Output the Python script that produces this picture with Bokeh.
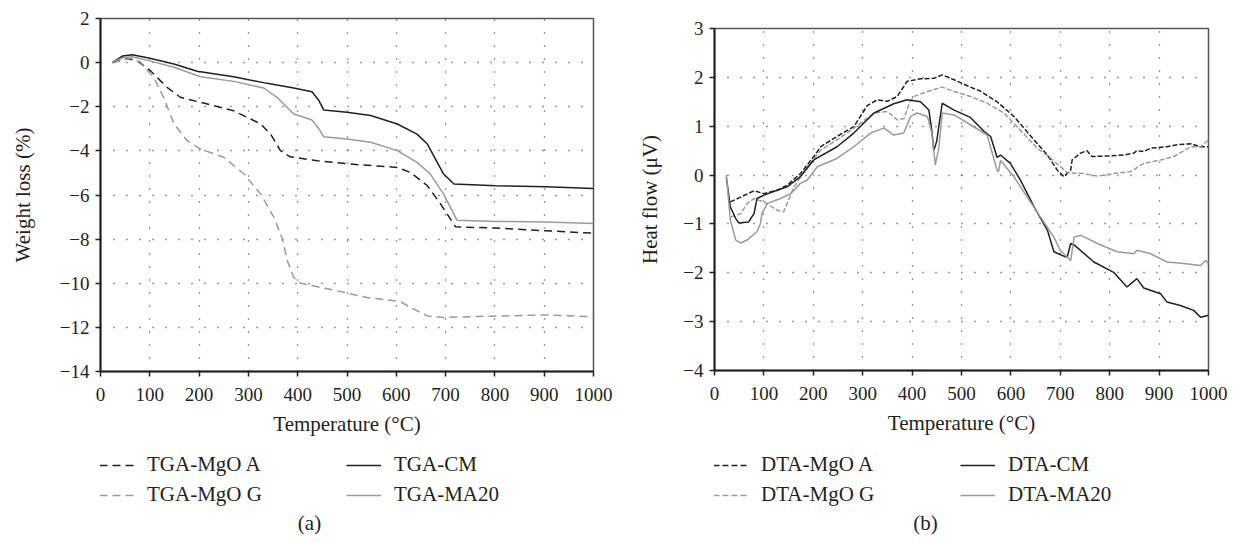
from bokeh.plotting import figure
from bokeh.layouts import row, column
from bokeh.models import Legend, LegendItem, Label, FixedTicker, Range1d, Spacer
from bokeh.embed import file_html
from bokeh.resources import INLINE

# ---------------- data ----------------
x_ticks = [0, 100, 200, 300, 400, 500, 600, 700, 800, 900, 1000]
tga_yticks = [-14, -12, -10, -8, -6, -4, -2, 0, 2]
dta_yticks = [-4, -3, -2, -1, 0, 1, 2, 3]

tga_labels = ["TGA-MgO A", "TGA-MgO G", "TGA-CM", "TGA-MA20"]
dta_labels = ["DTA-MgO A", "DTA-MgO G", "DTA-CM", "DTA-MA20"]

tga_a_t = [24, 54, 74, 101, 135, 162, 203, 270, 325, 345, 365, 385, 440, 507, 602, 629, 663, 690, 720, 801, 903, 1000]
tga_a_w = [0, 0.17, 0.09, -0.36, -1.12, -1.57, -1.8, -2.18, -2.78, -3.24, -3.99, -4.27, -4.45, -4.6, -4.75, -4.98, -5.58, -6.41, -7.44, -7.5, -7.62, -7.73]

tga_g_t = [24, 61, 81, 108, 128, 149, 176, 203, 250, 291, 325, 352, 369, 379, 392, 406, 473, 541, 608, 629, 663, 696, 811, 903, 994, 1000]
tga_g_w = [0, 0.2, 0.02, -0.67, -1.57, -2.78, -3.54, -3.92, -4.29, -5.05, -5.96, -7.02, -8.0, -8.98, -9.74, -10.0, -10.31, -10.65, -10.83, -11.1, -11.48, -11.55, -11.48, -11.44, -11.51, -11.5]

tga_cm_t = [24, 45, 64, 98, 149, 196, 270, 338, 392, 429, 443, 453, 500, 548, 602, 642, 663, 696, 717, 801, 903, 1000]
tga_cm_w = [0, 0.3, 0.36, 0.21, -0.06, -0.39, -0.64, -0.94, -1.15, -1.32, -1.72, -2.15, -2.25, -2.4, -2.78, -3.24, -3.69, -5.05, -5.5, -5.58, -5.63, -5.7]

tga_ma_t = [24, 45, 64, 98, 149, 203, 270, 331, 358, 392, 429, 443, 453, 500, 548, 602, 642, 669, 696, 723, 801, 903, 1000]
tga_ma_w = [0, 0.22, 0.27, 0.09, -0.21, -0.64, -0.85, -1.15, -1.57, -2.33, -2.6, -3.0, -3.36, -3.46, -3.61, -3.99, -4.52, -5.05, -5.96, -7.14, -7.2, -7.22, -7.29]

dta_a_t = [32, 53, 80, 100, 127, 147, 174, 201, 215, 248, 282, 309, 329, 350, 370, 390, 417, 444, 461, 485, 518, 538, 572, 606, 647, 674, 694, 707, 721, 724, 741, 754, 764, 795, 828, 849, 855, 869, 883, 916, 936, 964, 984, 1000]
dta_a_h = [-0.55, -0.45, -0.32, -0.38, -0.31, -0.21, 0.03, 0.38, 0.58, 0.79, 0.99, 1.42, 1.54, 1.51, 1.61, 1.92, 1.97, 1.98, 2.05, 1.95, 1.8, 1.72, 1.5, 1.2, 0.72, 0.41, 0.1, -0.03, 0.1, 0.31, 0.45, 0.5, 0.38, 0.39, 0.41, 0.45, 0.5, 0.48, 0.55, 0.58, 0.62, 0.64, 0.58, 0.58]

dta_g_t = [32, 53, 66, 80, 100, 127, 140, 161, 188, 215, 248, 282, 323, 350, 370, 384, 394, 404, 431, 461, 485, 518, 552, 586, 619, 653, 680, 714, 748, 775, 808, 842, 869, 903, 930, 964, 984, 1000]
dta_g_h = [-0.86, -0.79, -0.58, -0.48, -0.55, -0.72, -0.75, -0.24, 0.17, 0.51, 0.72, 0.96, 1.27, 1.3, 1.13, 1.16, 1.47, 1.61, 1.71, 1.8, 1.71, 1.61, 1.47, 1.27, 0.92, 0.55, 0.35, 0.05, 0.03, -0.02, 0.03, 0.07, 0.24, 0.31, 0.38, 0.58, 0.58, 0.72]

dta_cm_t = [24, 32, 43, 49, 69, 80, 86, 100, 127, 147, 174, 201, 248, 282, 323, 363, 390, 417, 434, 440, 444, 450, 454, 461, 485, 518, 545, 559, 572, 579, 599, 619, 647, 674, 687, 707, 714, 721, 728, 768, 808, 835, 855, 869, 903, 916, 943, 970, 984, 1000]
dta_cm_h = [-0.05, -0.65, -0.89, -0.98, -0.96, -0.79, -0.48, -0.41, -0.31, -0.24, -0.03, 0.31, 0.58, 0.86, 1.27, 1.46, 1.54, 1.5, 1.33, 0.9, 0.5, 0.7, 0.99, 1.47, 1.33, 1.18, 0.9, 0.79, 0.36, 0.41, 0.24, -0.1, -0.65, -1.13, -1.57, -1.66, -1.68, -1.4, -1.43, -1.78, -1.99, -2.29, -2.12, -2.31, -2.43, -2.6, -2.67, -2.77, -2.91, -2.87]

dta_ma_t = [24, 32, 43, 53, 66, 86, 93, 96, 107, 134, 154, 174, 188, 208, 248, 282, 316, 343, 363, 383, 397, 410, 431, 440, 447, 454, 461, 485, 518, 552, 572, 575, 579, 606, 633, 660, 687, 700, 721, 728, 741, 775, 815, 849, 855, 883, 916, 950, 984, 994, 1000]
dta_ma_h = [0.0, -0.92, -1.33, -1.39, -1.33, -1.16, -0.99, -0.79, -0.58, -0.48, -0.38, -0.17, -0.1, 0.17, 0.34, 0.58, 0.86, 0.96, 0.82, 0.86, 1.2, 1.27, 1.2, 0.86, 0.21, 0.55, 1.27, 1.23, 1.03, 0.82, 0.1, 0.07, 0.3, -0.03, -0.45, -0.86, -1.27, -1.54, -1.75, -1.27, -1.23, -1.4, -1.57, -1.61, -1.54, -1.61, -1.78, -1.81, -1.85, -1.75, -1.81]

# ---------------- styling ----------------
FONT = "Liberation Serif"
TXT = "#231f20"
BLACK = "#231f20"
GRAY = "#9a9a9a"
NAN = float("nan")


def make_fig(fw, fh, mb_left, mb_right, mb_top, mb_bottom, y0, y1, yticks, ylabel, ystand):
    p = figure(frame_width=fw, frame_height=fh, output_backend="svg", toolbar_location=None,
               x_range=Range1d(0, 1000), y_range=Range1d(y0, y1),
               min_border_left=mb_left, min_border_right=mb_right,
               min_border_top=mb_top, min_border_bottom=mb_bottom)
    p.background_fill_color = "white"
    p.border_fill_color = "white"
    p.outline_line_color = "#555555"
    p.outline_line_width = 1.5
    p.xaxis.ticker = FixedTicker(ticks=x_ticks)
    p.yaxis.ticker = FixedTicker(ticks=yticks)
    p.yaxis.major_label_overrides = {t: (("\u2212" + str(-t)) if t < 0 else str(t)) for t in yticks}
    for ax in (p.xaxis[0], p.yaxis[0]):
        ax.axis_line_color = BLACK
        ax.axis_line_width = 2
        ax.major_tick_line_color = BLACK
        ax.major_tick_line_width = 1.5
        ax.major_tick_out = 5
        ax.major_tick_in = 0
        ax.minor_tick_line_color = None
        ax.major_label_text_font = FONT
        ax.major_label_text_font_size = "19px"
        ax.major_label_text_color = TXT
        ax.axis_label_text_font = FONT
        ax.axis_label_text_font_size = "21px"
        ax.axis_label_text_font_style = "normal"
        ax.axis_label_text_color = TXT
    p.xaxis.axis_label = "Temperature (\u00b0C)"
    p.yaxis.axis_label = ylabel
    p.xaxis.major_label_standoff = 11
    p.xaxis.axis_label_standoff = 8
    p.yaxis.major_label_standoff = 6
    p.yaxis.axis_label_standoff = ystand
    for g in (p.xgrid[0], p.ygrid[0]):
        g.grid_line_color = "#333333"
        g.grid_line_width = 1.3
        g.grid_line_dash = "1 12"
    return p


def legend_fig(fw, mb_left, mb_right, labels, styles, caption, cap_x):
    # frame is aligned with the plot frame above it (same left/right borders)
    lf = figure(frame_width=fw, height=95, output_backend="svg", toolbar_location=None,
                x_range=Range1d(0, fw), y_range=Range1d(0, 95),
                min_border_left=mb_left, min_border_right=mb_right,
                min_border_top=0, min_border_bottom=0)
    lf.xaxis.visible = False
    lf.yaxis.visible = False
    lf.grid.visible = False
    lf.outline_line_color = None
    lf.background_fill_color = "white"
    lf.border_fill_color = "white"
    items = []
    for lab, (col, dash) in zip(labels, styles):
        # legend-only renderer: holds no visible data, just the line style
        r = lf.line(x=[NAN, NAN], y=[NAN, NAN], line_color=col, line_width=1.5, line_dash=dash)
        items.append(LegendItem(label=lab, renderers=[r]))
    leg = Legend(items=items, location=(-1, 36), orientation="vertical", nrows=2,
                 glyph_width=35, glyph_height=18, label_standoff=13, label_width=194,
                 label_height=18, spacing=5, padding=0, margin=0,
                 border_line_alpha=0, background_fill_alpha=0,
                 label_text_font=FONT, label_text_font_size="21px", label_text_color=TXT)
    lf.add_layout(leg, "center")
    lf.add_layout(Label(x=cap_x, y=21, text=caption, text_align="center",
                        text_baseline="middle", text_font=FONT,
                        text_font_size="21px", text_color=TXT))
    return lf


TGA_STY = [(BLACK, "8 5"), (GRAY, "8 5"), (BLACK, "solid"), (GRAY, "solid")]
DTA_STY = [(BLACK, "6 3"), (GRAY, "6 3"), (BLACK, "solid"), (GRAY, "solid")]

# ---------------- (a) TGA ----------------
pa = make_fig(493, 353, 100, 21, 18, 77, -14, 2, tga_yticks, "Weight loss (%)", 22)
for (t, w), (col, dash) in zip([(tga_a_t, tga_a_w), (tga_g_t, tga_g_w),
                                (tga_cm_t, tga_cm_w), (tga_ma_t, tga_ma_w)], TGA_STY):
    pa.line(t, w, line_color=col, line_width=1.5, line_dash=dash)
la = legend_fig(493, 100, 21, tga_labels, TGA_STY, "(a)", 209)

# ---------------- (b) DTA ----------------
pb = make_fig(494, 342, 100, 30, 18, 78, -4, 3, dta_yticks, "Heat flow (\u03bcV)", 18)
for (t, h), (col, dash) in zip([(dta_a_t, dta_a_h), (dta_g_t, dta_g_h),
                                (dta_cm_t, dta_cm_h), (dta_ma_t, dta_ma_h)],
                               [(BLACK, "5 2"), (GRAY, "5 2"), (BLACK, "solid"), (GRAY, "solid")]):
    pb.line(t, h, line_color=col, line_width=1.5, line_dash=dash)
lb = legend_fig(494, 100, 30, dta_labels, DTA_STY, "(b)", 211)

layout = row(column(pa, la, spacing=0),
             column(Spacer(width=624, height=10), pb, lb, spacing=0), spacing=0)
open("out.html", "w").write(file_html(layout, INLINE))
